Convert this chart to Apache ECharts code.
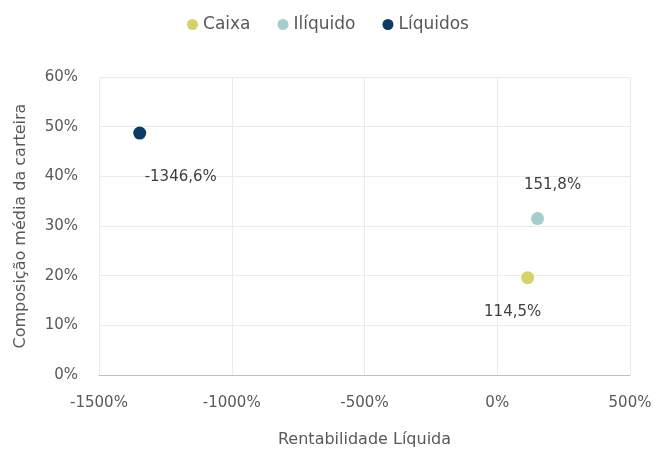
<!DOCTYPE html>
<html>
<head>
<meta charset="utf-8">
<script src="https://cdn.jsdelivr.net/npm/echarts@6/dist/echarts.min.js"></script>
<style>
  html, body { margin: 0; padding: 0; background: #ffffff; }
  #chart { width: 656px; height: 453px; }
</style>
</head>
<body>
<div id="chart"></div>
<script>
// Series names and their points: [rentabilidade líquida (%), composição média (%)]
const seriesNames = ['Caixa', 'Ilíquido', 'Líquidos'];
const rentabilidade = [114.5, 151.8, -1346.6];
const composicao = [19.6, 31.5, 48.7];
const colors = ['#d3d36b', '#a5cdcd', '#0e3a63'];
// Label offsets around each point [dx, dy]
const labelOffsets = [[-15, 34], [15, -33], [41, 44]];

const xTicks = { min: -1500, max: 500, interval: 500 };
const yTicks = { min: 0, max: 60, interval: 10 };

const FONT = '"DejaVu Sans", "Noto Sans", sans-serif';
const TEXT = '#595959';

function pct(v, digits) {
  return v.toFixed(digits).replace('.', ',') + '%';
}

const chart = echarts.init(document.getElementById('chart'), null, { renderer: 'canvas' });

const series = seriesNames.map((name, i) => ({
  name: name,
  type: 'scatter',
  symbol: 'circle',
  symbolSize: 13,
  itemStyle: { color: colors[i], opacity: 1 },
  data: [[rentabilidade[i], composicao[i]]],
  label: {
    show: true,
    position: 'inside',
    offset: labelOffsets[i],
    formatter: p => pct(p.value[0], 1),
    color: '#404040',
    fontFamily: FONT,
    fontSize: 15
  },
  emphasis: { disabled: true }
}));

chart.setOption({
  animation: false,
  backgroundColor: '#ffffff',
  textStyle: { fontFamily: FONT },
  legend: {
    top: 11,
    left: 'center',
    icon: 'circle',
    itemWidth: 11,
    itemHeight: 11,
    itemGap: 27,
    textStyle: { color: TEXT, fontSize: 17, fontFamily: FONT },
    data: seriesNames
  },
  grid: { left: 99, right: 26, top: 77, bottom: 76, containLabel: false },
  xAxis: {
    type: 'value',
    min: xTicks.min, max: xTicks.max, interval: xTicks.interval,
    name: 'Rentabilidade Líquida',
    nameLocation: 'middle',
    nameGap: 57,
    nameTextStyle: { color: TEXT, fontSize: 16, fontFamily: FONT },
    axisLine: { show: true, lineStyle: { color: '#bfbfbf', width: 1 } },
    axisTick: { show: false },
    axisLabel: { color: TEXT, fontSize: 15, margin: 21, fontFamily: FONT, formatter: v => v + '%' },
    splitLine: { show: true, lineStyle: { color: '#ebebeb', width: 1 } }
  },
  yAxis: {
    type: 'value',
    min: yTicks.min, max: yTicks.max, interval: yTicks.interval,
    name: 'Composição média da carteira',
    nameLocation: 'middle',
    nameGap: 70,
    nameTextStyle: { color: TEXT, fontSize: 16, fontFamily: FONT },
    axisLine: { show: false },
    axisTick: { show: false },
    axisLabel: { color: TEXT, fontSize: 15, margin: 21, fontFamily: FONT, formatter: v => v + '%' },
    splitLine: { show: true, lineStyle: { color: '#ebebeb', width: 1 } }
  },
  series: series
});
</script>
</body>
</html>
